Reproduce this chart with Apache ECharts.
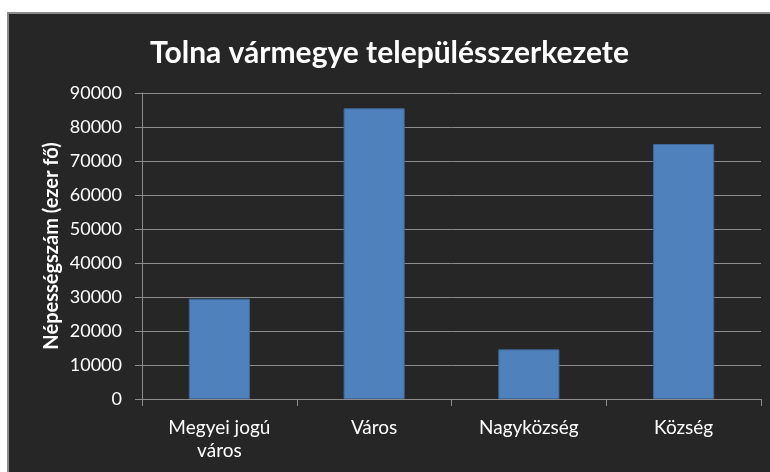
<!DOCTYPE html>
<html>
<head>
<meta charset="utf-8">
<script src="https://cdn.jsdelivr.net/npm/echarts@6/dist/echarts.min.js"></script>
<style>
  html, body { margin: 0; padding: 0; background: #ffffff; }
  #main {
    position: absolute; left: 7px; top: 12px;
    width: 761px; height: 458px;
    border-top: 2px solid #8a8a8a; border-left: 2px solid #8a8a8a;
    background: #262626;
  }
</style>
</head>
<body>
<div id="main"></div>
<script>
// adatok
const categories = ["Megyei jogú\nváros", "Város", "Nagyközség", "Község"];
const population = [29500, 85500, 14600, 75000];
const yTicks = [0, 90000, 10000]; // min, max, interval

let chart = echarts.init(document.getElementById("main"));

const font = "Lato, 'Open Sans', sans-serif";

let option = {
    backgroundColor: "#262626",
    animation: false,
    title: {
        text: "Tolna vármegye településszerkezete",
        left: "center",
        top: 19,
        textStyle: { color: "#ffffff", fontSize: 30, fontWeight: "bold", fontFamily: font }
    },
    grid: { left: 133, right: 9, top: 79, bottom: 73, containLabel: false },
    xAxis: {
        type: "category",
        data: categories,
        axisLine: { lineStyle: { color: "#8c8c8c", width: 1 } },
        axisTick: { show: true, length: 7, lineStyle: { color: "#8c8c8c" } },
        axisLabel: { color: "#ffffff", fontSize: 19, fontFamily: font, margin: 17, lineHeight: 23 }
    },
    yAxis: {
        type: "value",
        min: yTicks[0],
        max: yTicks[1],
        interval: yTicks[2],
        name: "Népességszám (ezer fő)",
        nameLocation: "middle",
        nameGap: 80,
        nameMoveOverlap: false,
        nameTextStyle: { color: "#ffffff", fontSize: 20, fontWeight: "bold", fontFamily: font },
        axisLine: { show: true, lineStyle: { color: "#8c8c8c" } },
        axisTick: { show: true, length: 7, lineStyle: { color: "#8c8c8c" } },
        axisLabel: { color: "#ffffff", fontSize: 18, fontFamily: font, margin: 20, formatter: (v) => String(v) },
        splitLine: { lineStyle: { color: "#8c8c8c", width: 1 } }
    },
    series: [
        {
            type: "bar",
            data: population,
            barWidth: "39.5%",
            itemStyle: { color: "#4f81bd", borderColor: "#3d6898", borderWidth: 1 }
        }
    ]
};

chart.setOption(option);
</script>
</body>
</html>
